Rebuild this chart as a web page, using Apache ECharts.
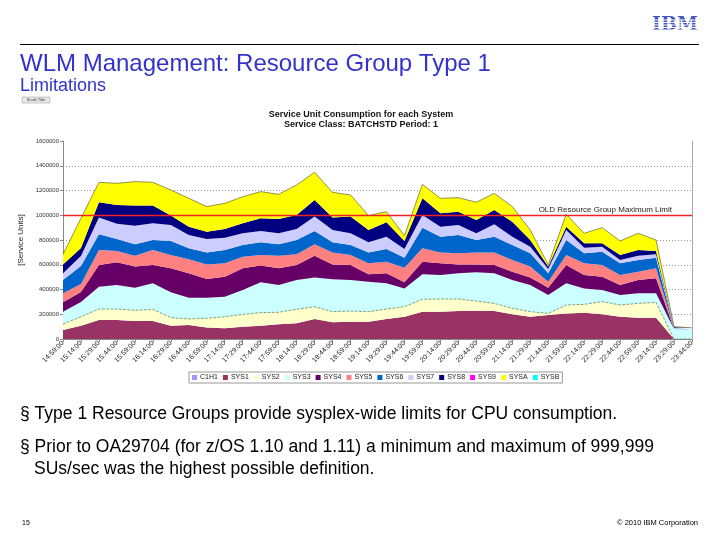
<!DOCTYPE html>
<html>
<head>
<meta charset="utf-8">
<script src="https://cdn.jsdelivr.net/npm/echarts@6/dist/echarts.min.js"></script>
<style>
html,body{margin:0;padding:0;background:#fff;}
#c{width:720px;height:540px;}
</style>
</head>
<body>
<div id="c"></div>
<script>
var categories = ["14:59:00","15:14:00","15:29:00","15:44:00","15:59:00","16:14:00","16:29:00","16:44:00","16:59:00","17:14:00","17:29:00","17:44:00","17:59:00","18:14:00","18:29:00","18:44:00","18:59:00","19:14:00","19:29:00","19:44:00","19:59:00","20:14:00","20:29:00","20:44:00","20:59:00","21:14:00","21:29:00","21:44:00","21:59:00","22:14:00","22:29:00","22:44:00","22:59:00","23:14:00","23:29:00","23:44:00"];

var seriesNames = ["C1H1","SYS1","SYS2","SYS3","SYS4","SYS5","SYS6","SYS7","SYS8","SYS9","SYSA","SYSB"];

var C1H1 = [0,0,0,0,0,0,0,0,0,0,0,0,0,0,0,0,0,0,0,0,0,0,0,0,0,0,0,0,0,0,0,0,0,0,0,0];
var SYS1 = [73000,108000,154000,154000,145000,145000,108000,113000,92000,86000,100000,108000,119000,127000,162000,135000,140000,140000,162000,180000,221000,221000,226000,229000,226000,199000,180000,194000,207000,213000,199000,180000,172000,172000,0,0];
var SYS2 = [48000,72000,88000,88000,87000,95000,64000,49000,75000,94000,99000,105000,97000,113000,99000,86000,86000,81000,80000,81000,100000,102000,97000,78000,62000,49000,41000,13000,68000,67000,103000,95000,116000,124000,0,0];
var SYS3 = [100000,120000,181000,194000,183000,210000,205000,172000,167000,162000,197000,245000,220000,237000,235000,261000,251000,242000,208000,148000,202000,194000,208000,232000,243000,229000,215000,149000,175000,129000,94000,81000,81000,73000,81000,76000];
var SYS4 = [75000,80000,175000,184000,170000,148000,194000,197000,151000,162000,175000,135000,135000,121000,177000,121000,121000,60000,81000,49000,102000,95000,72000,64000,67000,67000,60000,59000,148000,108000,108000,80000,108000,121000,0,0];
var SYS5 = [73000,65000,121000,91000,88000,121000,108000,113000,118000,108000,94000,86000,102000,86000,92000,97000,81000,89000,94000,118000,108000,88000,89000,97000,102000,94000,89000,48000,81000,95000,94000,81000,67000,81000,0,0];
var SYS6 = [108000,145000,127000,97000,92000,81000,113000,89000,97000,107000,95000,102000,92000,116000,108000,81000,81000,88000,102000,81000,167000,127000,148000,100000,127000,122000,107000,68000,121000,80000,108000,95000,94000,86000,4000,3000];
var SYS7 = [54000,80000,135000,124000,151000,135000,129000,108000,108000,100000,94000,92000,89000,89000,116000,100000,94000,81000,100000,70000,102000,81000,81000,54000,100000,67000,54000,35000,81000,46000,40000,26000,35000,27000,5000,4000];
var SYS8 = [72000,65000,124000,151000,162000,143000,76000,67000,59000,70000,81000,102000,116000,113000,134000,100000,135000,100000,116000,65000,135000,108000,108000,108000,116000,121000,54000,19000,27000,35000,27000,41000,46000,27000,7000,5000];
var SYS9 = [0,0,0,0,0,0,0,0,0,0,0,0,0,0,0,0,0,0,0,0,0,0,0,0,0,0,0,0,0,0,0,0,0,0,0,0];
var SYSA = [81000,240000,161000,175000,194000,188000,207000,229000,203000,207000,215000,216000,199000,243000,224000,204000,175000,116000,86000,43000,113000,121000,113000,143000,134000,122000,81000,13000,100000,81000,127000,113000,135000,89000,3000,2000];
var SYSB = [0,0,0,0,0,0,0,0,0,0,0,0,0,0,0,0,0,0,0,0,0,0,0,0,0,0,0,0,0,0,0,0,0,0,0,0];

var seriesData = [C1H1,SYS1,SYS2,SYS3,SYS4,SYS5,SYS6,SYS7,SYS8,SYS9,SYSA,SYSB];
var colors = ["#9999FF","#993366","#FFFFCC","#CCFFFF","#660066","#FF8080","#0066CC","#CCCCFF","#000080","#FF00FF","#FFFF00","#00FFFF"];

var limitValue = 1000000;
var limitLabel = "OLD Resource Group Maximum Limit";
var yTicks = {min:0, max:1600000, interval:200000};

var chart = echarts.init(document.getElementById('c'), null, {renderer:'canvas'});

var series = seriesNames.map(function(n, i){
  var ls = {width:0};
  if (n === 'SYSA') ls = {width:0.7, color:'#666633'};
  if (n === 'SYS2') ls = {width:0.7, color:'#557755', type:'dashed'};
  var s = {
    name:n, type:'line', stack:'total', data:seriesData[i],
    symbol:'none', lineStyle:ls, areaStyle:{color:colors[i], opacity:1},
    itemStyle:{color:colors[i]}, emphasis:{disabled:true}, z:2
  };
  if (n === 'SYSB') {
    s.markLine = {
      symbol:['none','none'], silent:true, animation:false, z:10,
      lineStyle:{color:'#ee2222', width:1.3, type:'solid', opacity:1},
      emphasis:{disabled:true},
      label:{show:true, formatter:limitLabel, position:'insideEndTop', color:'#222', fontSize:8, fontFamily:'Arial', distance:[20,1]},
      data:[{yAxis:limitValue, lineStyle:{color:'#ee2222'}}]
    };
  }
  return s;
});

var titleColor = '#3333cc';
var stripes = [];
for (var k=0;k<8;k++){
  stripes.push({type:'rect', shape:{x:650, y:19.5+k*2.5, width:52, height:1}, style:{fill:'#fff'}, z:20});
}

chart.setOption({
  animation:false,
  backgroundColor:'#fff',
  color:colors,
  title:{
    text:'Service Unit Consumption for each System\nService Class: BATCHSTD Period: 1',
    left:356, top:105, textAlign:'center',
    textStyle:{fontSize:9, fontWeight:'bold', fontFamily:'Arial', color:'#111', lineHeight:10}
  },
  grid:{left:63, right:28, top:141, bottom:201, show:false},
  legend:{
    data:seriesNames, left:189, top:372, itemWidth:5, itemHeight:5, itemGap:5,
    icon:'rect', padding:[2,3,2,3], borderColor:'#999', borderWidth:1,
    textStyle:{fontSize:7, fontFamily:'Arial', color:'#222', padding:[0,0,0,-2]}
  },
  xAxis:{
    type:'category', data:categories, boundaryGap:false,
    axisLine:{lineStyle:{color:'#888'}},
    axisTick:{show:true, alignWithLabel:true, length:3, lineStyle:{color:'#888'}, interval:0},
    axisLabel:{interval:0, rotate:45, fontSize:7, fontFamily:'Arial', color:'#222', margin:3},
    splitLine:{show:false}
  },
  yAxis:{
    type:'value', min:yTicks.min, max:yTicks.max, interval:yTicks.interval,
    name:'[Service Units]', nameLocation:'middle', nameGap:29, nameRotate:90,
    nameTextStyle:{fontSize:8, fontFamily:'Arial', color:'#222'},
    axisLine:{show:true, lineStyle:{color:'#888'}},
    axisTick:{show:true, length:3, lineStyle:{color:'#888'}},
    axisLabel:{fontSize:6, fontFamily:'Arial', color:'#333', margin:4, formatter:function(v){return String(v);}},
    splitLine:{show:true, showMinLine:false, showMaxLine:false, lineStyle:{color:'#777', type:[1,2], width:0.8}}
  },
  graphic:[
    {type:'line', shape:{x1:692.5, y1:141, x2:692.5, y2:339}, style:{stroke:'#aaa', lineWidth:1}},
    {type:'text', left:652, top:16, style:{text:'IBM', font:'bold 19px "DejaVu Serif"', fill:'#4455bb'}, z:10}
  ].concat(stripes).concat([
    {type:'line', shape:{x1:20, y1:44.5, x2:699, y2:44.5}, style:{stroke:'#000', lineWidth:1}},
    {type:'text', style:{x:20, y:64, text:'WLM Management: Resource Group Type 1', font:'24px Arial', fill:titleColor, verticalAlign:'middle'}},
    {type:'text', style:{x:20, y:86, text:'Limitations', font:'18px Arial', fill:titleColor, verticalAlign:'middle'}},
    {type:'rect', shape:{x:22, y:97, width:28, height:6}, style:{fill:'#e8e8e8', stroke:'#999', lineWidth:0.5}},
    {type:'text', style:{x:36, y:100, text:'Scale Title', font:'4px Arial', fill:'#333', align:'center', verticalAlign:'middle'}},
    {type:'text', style:{x:20, y:414, text:'§ Type 1 Resource Groups provide sysplex-wide limits for CPU consumption.', font:'17.5px Arial', fill:'#000', verticalAlign:'middle'}},
    {type:'text', style:{x:20, y:447, text:'§ Prior to OA29704 (for z/OS 1.10 and 1.11) a minimum and maximum of 999,999', font:'17.5px Arial', fill:'#000', verticalAlign:'middle'}},
    {type:'text', style:{x:34, y:469, text:'SUs/sec was the highest possible definition.', font:'17.5px Arial', fill:'#000', verticalAlign:'middle'}},
    {type:'text', style:{x:22, y:523, text:'15', font:'7px Arial', fill:'#000', verticalAlign:'middle'}},
    {type:'text', style:{x:698, y:523, text:'© 2010 IBM Corporation', font:'7.5px Arial', fill:'#000', align:'right', verticalAlign:'middle'}}
  ]),
  series:series
});
</script>
</body>
</html>
